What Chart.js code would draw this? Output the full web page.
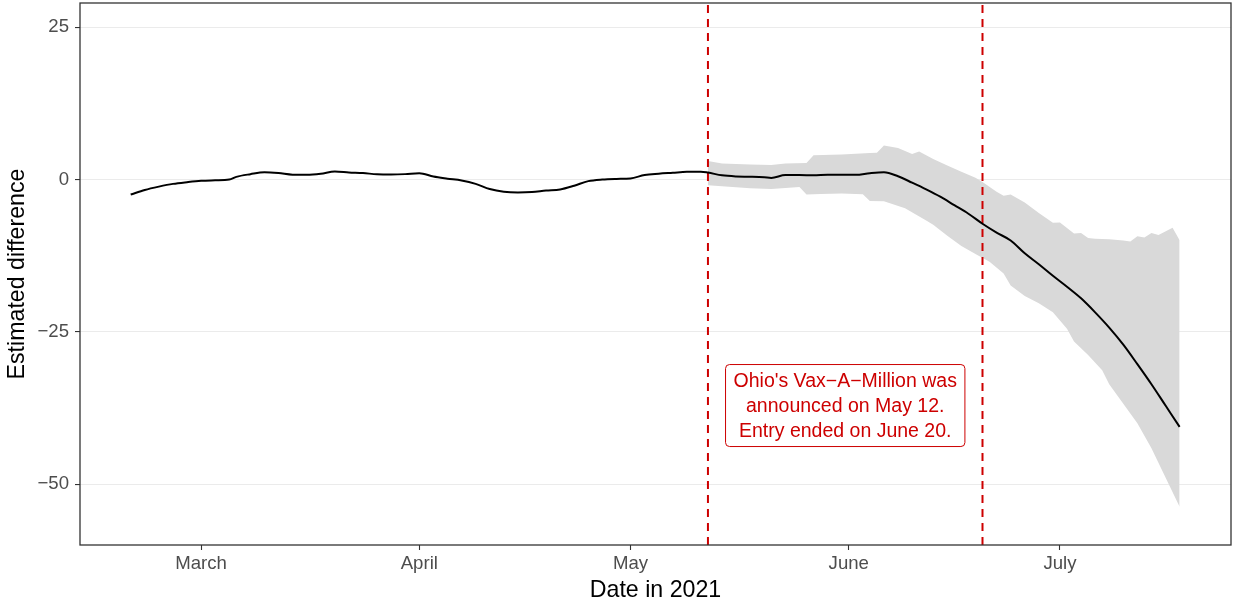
<!DOCTYPE html>
<html lang="en">
<head>
<meta charset="UTF-8">
<title>Estimated difference, Ohio Vax-A-Million</title>
<script src="https://cdn.jsdelivr.net/npm/chart.js"></script>
<style>
  * { margin: 0; padding: 0; box-sizing: border-box; }
  body { background: #fff; }
  .wrap { width: 1234px; height: 603px; position: relative; }
</style>
</head>
<body>
<div class="wrap"><canvas id="chart"></canvas></div>
<script>
// x values are day-of-year in 2021 (Jan 1 = 1, Mar 1 = 60)
const estDays = [50, 52, 54, 56, 58, 60, 62, 64, 65, 67, 69, 71, 73, 75, 77, 79, 81, 83, 85, 87, 89,
  91, 93, 95, 97, 99, 101, 103, 105, 107, 109, 111, 113, 115, 117, 119, 121, 123, 125, 127, 129, 131,
  132, 134, 136, 138, 140, 141, 143, 145, 147, 149, 151, 153, 155, 157, 159, 161, 163, 165, 167, 169,
  171, 173, 175, 177, 179, 181, 183, 185, 187, 189, 191, 193, 195, 197, 199];
const estimate = [-2.45, -1.7, -1.15, -0.7, -0.42, -0.2, -0.12, 0.0, 0.45, 0.89, 1.2, 1.07, 0.8, 0.78, 0.95, 1.33, 1.18, 1.07, 0.88, 0.84, 0.9,
  1.05, 0.5, 0.15, -0.15, -0.7, -1.55, -2.0, -2.12, -2.05, -1.8, -1.62, -1.0, -0.25, 0.02, 0.12, 0.2, 0.74, 0.96, 1.12, 1.28, 1.3,
  1.15, 0.7, 0.52, 0.47, 0.38, 0.28, 0.75, 0.75, 0.72, 0.78, 0.78, 0.78, 1.05, 1.2, 0.55, -0.5, -1.6, -2.8, -4.2, -5.6,
  -7.25, -8.7, -10.0, -12.1, -13.9, -15.8, -17.6, -19.5, -21.8, -24.3, -27.1, -30.3, -33.6, -37.1, -40.6];

const upperDays = [132, 134, 136, 138, 141, 143, 146, 147, 151, 155, 156, 157, 159, 161, 162, 164, 166, 168, 170, 171,
  173, 174, 175, 177, 179, 181, 182, 184, 185, 186, 187, 189, 191, 192, 193, 194, 195, 196, 198, 199];
const upper = [3.07, 2.65, 2.55, 2.5, 2.41, 2.64, 2.74, 4.0, 4.12, 4.35, 4.4, 5.6, 5.2, 4.2, 4.6, 3.4, 2.3, 1.3, 0.3, -0.4,
  -2.0, -2.67, -2.45, -3.75, -5.5, -7.1, -7.05, -8.85, -8.75, -9.6, -9.73, -9.8, -10.0, -10.16, -9.29, -9.5, -8.75, -9.1, -7.9, -9.95];

const lowerDays = [132, 134, 136, 138, 141, 144, 145, 146, 148, 151, 154, 155, 157, 160, 163, 164, 166, 168, 170, 172,
  174, 175, 177, 179, 181, 183, 184, 186, 188, 189, 191, 193, 195, 197, 199];
const lower = [-0.92, -1.08, -1.25, -1.4, -1.53, -1.3, -1.2, -2.45, -2.35, -2.28, -2.4, -3.5, -3.55, -4.7, -6.7, -7.4, -9.2, -10.9, -12.2, -13.5,
  -15.4, -17.4, -19.1, -20.3, -21.8, -24.5, -26.6, -28.8, -31.3, -33.6, -36.8, -40.0, -44.1, -48.9, -53.7];

const monthTicks = [60, 91, 121, 152, 182];
const monthLabels = ['March', 'April', 'May', 'June', 'July'];
const yTicks = [25, 0, -25, -50];
const eventDays = [132, 171]; // May 12, June 20
const noteLines = ['Ohio\'s Vax\u2212A\u2212Million was', 'announced on May 12.', 'Entry ended on June 20.'];
const noteAt = [151.5, -37.1];

const xMin = 42.8, xMax = 206.3, yMin = -60, yMax = 29;
const red = '#cd0000';
const fontFamily = '"Liberation Sans", Arial, Helvetica, sans-serif';

const pts = (xs, ys) => xs.map((d, i) => ({ x: d, y: ys[i] }));

// panel border + text label box drawn on top of the data
const panelAndNote = {
  id: 'panelAndNote',
  afterDatasetsDraw(chart) {
    const { ctx, chartArea: a, scales: { x, y } } = chart;
    const cx = x.getPixelForValue(noteAt[0]);
    const cy = y.getPixelForValue(noteAt[1]);
    const lineH = 25;
    ctx.save();
    ctx.font = '19.5px ' + fontFamily;
    const textW = Math.max(...noteLines.map(t => ctx.measureText(t).width));
    const w = textW + 16, h = noteLines.length * lineH + 7;
    const bx = cx - w / 2, by = cy - h / 2, r = 4;
    ctx.beginPath();
    ctx.moveTo(bx + r, by);
    ctx.arcTo(bx + w, by, bx + w, by + h, r);
    ctx.arcTo(bx + w, by + h, bx, by + h, r);
    ctx.arcTo(bx, by + h, bx, by, r);
    ctx.arcTo(bx, by, bx + w, by, r);
    ctx.closePath();
    ctx.fillStyle = '#fff';
    ctx.fill();
    ctx.strokeStyle = red;
    ctx.lineWidth = 1;
    ctx.stroke();
    ctx.fillStyle = red;
    ctx.textAlign = 'center';
    ctx.textBaseline = 'middle';
    noteLines.forEach((t, i) => {
      ctx.fillText(t, cx, cy + (i - (noteLines.length - 1) / 2) * lineH + 1);
    });
    // panel border
    ctx.strokeStyle = '#333333';
    ctx.lineWidth = 1.3;
    ctx.strokeRect(a.left, a.top, a.right - a.left, a.bottom - a.top);
    ctx.restore();
  }
};

const datasets = [
  {
    label: 'estimate',
    data: pts(estDays, estimate),
    borderColor: '#000',
    borderWidth: 2,
    pointRadius: 0,
    cubicInterpolationMode: 'monotone',
    fill: false,
    order: 0
  },
  ...eventDays.map(d => ({
    label: 'event',
    data: [{ x: d, y: yMin }, { x: d, y: yMax }],
    borderColor: red,
    borderWidth: 2,
    borderDash: [8, 6],
    pointRadius: 0,
    fill: false,
    order: 1
  })),
  {
    label: 'upper',
    data: pts(upperDays, upper),
    borderWidth: 0,
    borderColor: 'rgba(0,0,0,0)',
    backgroundColor: '#d9d9d9',
    pointRadius: 0,
    fill: '+1',
    order: 2
  },
  {
    label: 'lower',
    data: pts(lowerDays, lower),
    borderWidth: 0,
    borderColor: 'rgba(0,0,0,0)',
    pointRadius: 0,
    fill: false,
    order: 2
  }
];

new Chart(document.getElementById('chart'), {
  type: 'line',
  data: { datasets },
  options: {
    responsive: true,
    maintainAspectRatio: false,
    animation: false,
    devicePixelRatio: 1,
    layout: { padding: { top: 3, right: 3, left: 0, bottom: 0 } },
    plugins: { legend: { display: false }, tooltip: { enabled: false } },
    scales: {
      x: {
        type: 'linear',
        min: xMin,
        max: xMax,
        afterBuildTicks: s => { s.ticks = monthTicks.map(v => ({ value: v })); },
        afterFit: s => { s.height = 58; s.paddingLeft = 0; s.paddingRight = 0; },
        border: { display: false },
        grid: { drawOnChartArea: false, tickColor: '#333333', tickLength: 5, tickWidth: 1.1 },
        ticks: {
          padding: 3,
          color: '#4d4d4d',
          font: { family: fontFamily, size: 18.6, lineHeight: 1.2 },
          maxRotation: 0,
          callback: v => monthLabels[monthTicks.indexOf(v)]
        },
        title: {
          display: true,
          text: 'Date in 2021',
          color: '#000',
          font: { family: fontFamily, size: 23.2, lineHeight: 1.0 },
          padding: { top: 0, bottom: 1 }
        }
      },
      y: {
        min: yMin,
        max: yMax,
        afterBuildTicks: s => { s.ticks = yTicks.map(v => ({ value: v })); },
        afterFit: s => { s.width = 80; s.paddingTop = 0; s.paddingBottom = 0; },
        border: { display: false },
        grid: { color: '#ebebeb', lineWidth: 1.1, tickColor: '#333333', tickLength: 5, tickWidth: 1.1 },
        ticks: {
          padding: 6,
          color: '#4d4d4d',
          font: { family: fontFamily, size: 18.6 },
          callback: v => String(v).replace('-', '\u2212')
        },
        title: {
          display: true,
          text: 'Estimated difference',
          color: '#000',
          font: { family: fontFamily, size: 23.2, lineHeight: 1.2 },
          padding: { top: 4, bottom: 0 }
        }
      }
    }
  },
  plugins: [panelAndNote]
});
</script>
</body>
</html>
